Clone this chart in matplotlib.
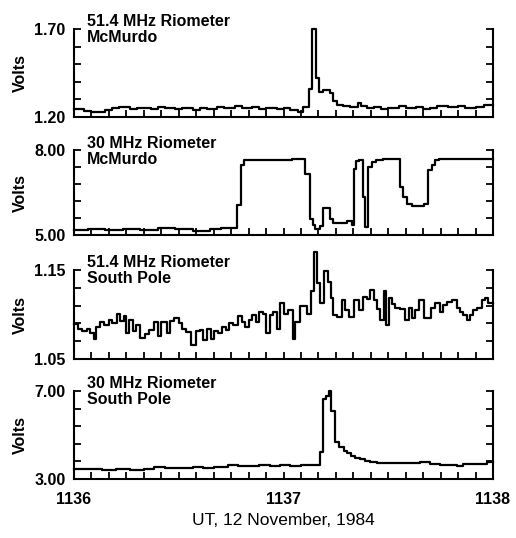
import numpy as np
import matplotlib
matplotlib.use('Agg')
import matplotlib.pyplot as plt
from matplotlib.ticker import MultipleLocator, FixedLocator, NullFormatter

plt.rcParams['font.family'] = ['Liberation Sans', 'DejaVu Sans']

# seconds after 11:36 UT, start of each step, and the value held until the next one
p1_t = [0, 3, 5, 9, 11, 13, 16, 18, 22, 24, 26, 29, 31, 34, 36, 38, 41, 43, 46, 48,
        51, 53, 55, 58, 60, 62, 64.2, 65.5, 67.4, 68.2, 69.2, 70.3, 71.2, 73.4, 74.3, 75.3, 77, 79.1, 81.2, 82.1,
        84, 86, 88, 90, 93, 95, 98, 100, 102, 104, 107, 110, 112, 115, 117.5]
p1_v = [1.245, 1.235, 1.23, 1.24, 1.25, 1.255, 1.245, 1.25, 1.245, 1.255, 1.25, 1.245, 1.25, 1.24, 1.25, 1.245, 1.255, 1.25, 1.26, 1.25,
        1.255, 1.245, 1.25, 1.245, 1.25, 1.24, 1.23, 1.255, 1.36, 1.70, 1.42, 1.34, 1.355, 1.335, 1.29, 1.27, 1.265, 1.255, 1.28, 1.26,
        1.25, 1.255, 1.245, 1.25, 1.26, 1.25, 1.255, 1.245, 1.25, 1.26, 1.255, 1.26, 1.25, 1.255, 1.27]

p2_t = [0, 4, 9, 14, 19, 24, 29, 34, 39, 42, 44, 46.8, 47.8, 48.6, 49.5, 62.4, 66.2, 67.6, 68.5, 69.1,
        70.5, 71.4, 73.4, 74.3, 78.1, 79.5, 80.2, 80.8, 81.5, 82.7, 83.4, 84.3, 85.3, 86.5, 88.6, 93.4, 94.1, 95.3, 96.7, 100.1,
        101.5, 102.4, 103.4, 104.5]
p2_v = [5.18, 5.22, 5.17, 5.2, 5.18, 5.24, 5.2, 5.15, 5.21, 5.26, 5.24, 6.05, 7.46, 7.63, 7.65, 7.67, 7.16, 5.55, 5.35, 5.2,
        5.33, 5.94, 5.55, 5.44, 5.49, 5.35, 7.34, 7.6, 7.63, 6.35, 5.29, 7.4, 7.58, 7.63, 7.67, 6.7, 6.35, 6.11, 6.02, 6.11,
        7.28, 7.46, 7.63, 7.67]

p3_t = [0, 1.2, 2.2, 3.6, 4.6, 5.6, 6.3, 7.5, 8.6, 10.0, 11.0, 12.3, 13.2, 14.2, 15.0, 15.8, 16.8, 17.8, 19.0, 20.3,
        21.5, 23.0, 24.0, 25.0, 26.5, 27.5, 28.5, 30.0, 31.0, 32.0, 33.5, 35.0, 36.0, 37.0, 38.0, 39.2, 40.2, 41.2, 42.5, 43.5,
        44.5, 45.5, 47.0, 48.0, 49.0, 50.0, 51.0, 52.0, 53.0, 54.0, 55.0, 56.0, 57.0, 58.0, 59.0,
        60.0, 61.4, 62.6, 63.3, 64.8, 66.7, 67.8, 68.6, 69.5, 70.5, 71.7, 72.7, 73.6, 74.3, 75.4, 76.7, 77.7, 78.9, 80.2, 81.6,
        82.9, 84.0, 84.8, 85.8, 86.7, 87.7, 88.7, 89.4, 90.1, 91.0, 92.0, 93.4, 94.8, 95.8, 96.7, 97.7, 98.9, 100.1, 102.2, 103.4,
        104.7, 105.8, 106.8, 108.2, 109.6, 110.6, 111.5, 112.5, 113.5, 114.4, 115.4, 116.8, 117.8, 118.7]
p3_v = [1.089, 1.084, 1.081, 1.084, 1.079, 1.073, 1.086, 1.092, 1.088, 1.094, 1.091, 1.101, 1.093, 1.098, 1.079, 1.094, 1.082, 1.088, 1.074, 1.078,
        1.083, 1.092, 1.076, 1.092, 1.079, 1.093, 1.096, 1.090, 1.084, 1.080, 1.066, 1.081, 1.083, 1.071, 1.084, 1.073, 1.081, 1.079, 1.086, 1.083,
        1.091, 1.088, 1.098, 1.092, 1.086, 1.094, 1.099, 1.092, 1.103, 1.101, 1.079, 1.099, 1.103, 1.084, 1.113,
        1.101, 1.105, 1.073, 1.092, 1.110, 1.101, 1.126, 1.170, 1.135, 1.113, 1.149, 1.136, 1.118, 1.099, 1.097, 1.116, 1.105, 1.097, 1.116, 1.105,
        1.120, 1.117, 1.128, 1.116, 1.106, 1.094, 1.126, 1.088, 1.118, 1.112, 1.107, 1.106, 1.094, 1.107, 1.096, 1.105, 1.116, 1.096, 1.107, 1.113,
        1.103, 1.111, 1.114, 1.116, 1.107, 1.103, 1.099, 1.094, 1.099, 1.105, 1.107, 1.116, 1.118, 1.113]

p4_t = [0, 4, 8, 12, 16, 20, 23, 26, 30, 34, 37, 40, 44, 47, 50, 53, 56, 59, 62, 65,
        68, 70.5, 71.2, 72.2, 72.9, 73.5, 74.8, 76.0, 77.2, 78.1, 79.3, 80.5, 82.0, 83.4, 84.8, 86.7, 90.6, 95.4, 99.2, 102,
        104.9, 109.6, 111.5, 116.3, 118.2]
p4_v = [3.46, 3.44, 3.42, 3.45, 3.43, 3.46, 3.53, 3.50, 3.52, 3.55, 3.52, 3.56, 3.62, 3.58, 3.60, 3.62, 3.60, 3.63, 3.61, 3.63,
        3.64, 4.24, 6.64, 6.79, 7.0, 6.09, 4.67, 4.47, 4.27, 4.17, 4.06, 3.97, 3.89, 3.82, 3.76, 3.71, 3.74, 3.71, 3.76, 3.70,
        3.64, 3.59, 3.70, 3.67, 3.76]

titles = ['51.4 MHz Riometer\nMcMurdo', '30 MHz Riometer\nMcMurdo',
          '51.4 MHz Riometer\nSouth Pole', '30 MHz Riometer\nSouth Pole']
y_ranges = [(1.20, 1.70), (5.00, 8.00), (1.05, 1.15), (3.00, 7.00)]
x_ticks = [0, 60, 120]
x_labels = ['1136', '1137', '1138']

series = [(p1_t, p1_v), (p2_t, p2_v), (p3_t, p3_v), (p4_t, p4_v)]

fig = plt.figure(figsize=(5.16, 5.38), dpi=100)
W, H = 516, 538
boxes = [(29, 117), (150, 235), (270, 359), (391, 479)]

for i, (t, v) in enumerate(series):
    top, bot = boxes[i]
    ax = fig.add_axes([74 / W, 1 - bot / H, 419 / W, (bot - top) / H])
    tt = np.append(t, 120)
    vv = np.append(v, v[-1])
    ax.step(tt, vv, where='post', color='black', lw=1.6, clip_on=False)
    lo, hi = y_ranges[i]
    ax.set_xlim(0, 120)
    ax.set_ylim(lo, hi)
    ax.spines['top'].set_visible(False)
    for s in ['left', 'right', 'bottom']:
        ax.spines[s].set_linewidth(1.5)
    ax.set_yticks([lo, hi])
    ax.set_yticklabels(['%.2f' % lo, '%.2f' % hi], fontweight='bold')
    ax.yaxis.set_minor_locator(FixedLocator(np.linspace(lo, hi, 6)[1:-1]))
    ax.xaxis.set_major_locator(FixedLocator(x_ticks))
    ax.xaxis.set_minor_locator(MultipleLocator(5))
    ax.tick_params(which='both', direction='in', length=5, width=1.3, right=True, top=False,
                   labelsize=11.5, pad=6)
    if i == 3:
        ax.set_xticklabels(x_labels, fontweight='bold')
        ax.tick_params(axis='x', pad=9)
        ax.set_xlabel('UT, 12 November, 1984', fontsize=12.5, labelpad=5)
    else:
        ax.xaxis.set_major_formatter(NullFormatter())
    ax.set_ylabel('Volts', fontsize=11.5, fontweight='bold')
    ax.yaxis.set_label_coords(-0.111, 0.5)
    ax.text(0.031, 1.17, titles[i], transform=ax.transAxes, va='top', ha='left',
            fontsize=11.5, fontweight='bold', linespacing=1.1)

fig.savefig('out.png', dpi=100)
